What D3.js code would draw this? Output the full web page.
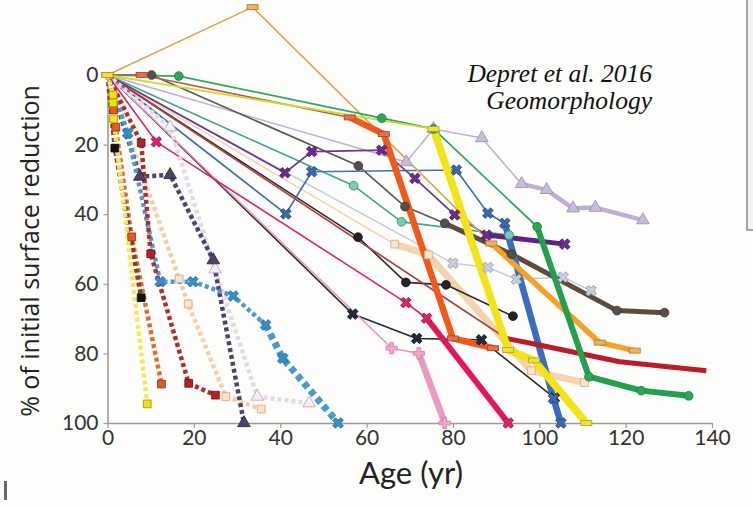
<!DOCTYPE html>
<html>
<head>
<meta charset="utf-8">
<script src="https://cdn.jsdelivr.net/npm/d3@7"></script>
<style>
  html, body { margin: 0; padding: 0; background: #fdfdfb; }
  svg { display: block; }
</style>
</head>
<body>
<svg id="chart" width="753" height="508"></svg>
<script>
// ---- Data: [age (yr), % of initial surface reduction] ----
const yellowDash  = [[0,0],[1.3,5.7],[1.3,8],[1.4,12.6],[9.2,94.5]];
const orangeDash  = [[0,0],[1.4,10],[1.9,15],[5.6,46.5],[12.5,88.8]];
const brownDash   = [[0,0],[1.7,21],[7.8,64]];
const darkRedDash = [[0,0],[7.8,19.5],[10,51.4],[18.8,88.6],[25,92]];
const blueDash    = [[0,0],[4.7,16.7],[12.2,59.4],[19.8,59.4],[29.1,63.5],[36.6,71.8],[40.6,81.4],[53.4,100]];
const peachDash   = [[0,0],[16.6,58.6],[18.7,65.8],[27.4,92.4],[35.6,96]];
const navyDash    = [[0,0],[7.5,29.2],[14.5,28.7],[24.5,53.2],[31.6,100]];
const lilacDash   = [[0,0],[14.5,15],[24.9,55.8],[34.7,92.4],[46.7,94.3]];

const amber     = [[0,0],[33.6,-19.5],[88.9,48.4],[114,76.9],[122.1,79.2]];
const yellow    = [[0,0],[75.5,15.5],[92.8,79],[98.8,82],[110.9,100]];
const green     = [[0,0],[16.5,0.3],[63.5,12.4],[75.5,15.5],[99.5,43.6],[111.5,86.7],[123.6,90.7],[134.6,92.2]];
const vermilion = [[0,0],[7.9,0],[56.1,12.2],[64,17],[80,75.7],[89.3,78.5]];
const darkRed   = [[0,0],[92.4,75.7],[100,77.6],[118.6,82.4],[138.7,85]];
const pink      = [[0,0],[65.8,78.5],[72.1,80],[78.1,100]];
const crimson   = [[0,0],[11.3,19.2],[69.1,65.4],[73.9,69.9],[92.8,100]];
const blackX    = [[0,0],[56.8,68.7],[71.6,75.7],[86.6,76.1],[103.5,92.8]];
const blackDot  = [[0,0],[58,46.6],[69.1,59.6],[78.4,60.3],[93.9,69.3]];
const charcoal  = [[0,0],[10.2,0],[58.1,26.1],[68.9,37.8],[78.1,42.6],[93.6,51.5],[118,67.7],[129,68.3]];
const teal      = [[0,0],[57,31.8],[68.1,42.2],[93,46]];
const purple    = [[0,0],[41.1,28.1],[47.3,22],[63.5,21.6],[71.2,29.7],[80.4,40.2],[87.8,46],[105.9,48.6]];
const blue      = [[0,0],[41.3,39.9],[47.3,27.8],[80.8,27.3],[88.1,39.7],[92,42.6],[103.3,93],[105,100]];
const lavender  = [[0,0],[69.2,25],[75.5,15.5],[86.7,18.1],[95.9,31.3],[101.7,33],[107.8,38.3],[113,38.1],[124,41.7]];
const greyX     = [[0,0],[80,54.1],[88.1,55.3],[94.7,58.7],[105.5,58.1],[112,62]];
const wheat     = [[0,0],[66.5,48.6],[74.3,51.7],[98.2,85],[110.5,88.4]];

const xTicks = [0, 20, 40, 60, 80, 100, 120, 140];
const yTicks = [0, 20, 40, 60, 80, 100];

// ---- Drawing styles for each series ----
// thickFrom: index of the first point of the heavy part of the line
const styles = [
  {d: wheat,     color: "#f4d3ad", w: 1.5, thickFrom: 1, tw: 7, shape: "square", fill: "#fbe6cf", stroke: "#d9a878"},
  {d: greyX,     color: "#c3cad8", w: 1.4, shape: "x", fill: "#c8d0dc", stroke: "#8a94a8"},
  {d: lavender,  color: "#bfb0d2", w: 1.5, thickFrom: 4, tw: 4.5, shape: "tri", fill: "#c9bcd8", stroke: "#9a8ab0"},
  {d: teal,      color: "#3ea88e", w: 1.6, shape: "circle", fill: "#7ccab4", stroke: "#2e8a70"},
  {d: charcoal,  color: "#5a5a5a", w: 1.7, thickFrom: 4, tw: 5, tcolor: "#5d4b40", shape: "circle", fill: "#5a4e46", stroke: "#333"},
  {d: blackDot,  color: "#2a2a2a", w: 1.6, shape: "circle", fill: "#222", stroke: "#111"},
  {d: blackX,    color: "#2a2a2a", w: 1.6, shape: "x", fill: "#1e2a40", stroke: "#111"},
  {d: purple,    color: "#6e3590", w: 1.7, thickFrom: 6, tw: 5, tcolor: "#5e2282", shape: "x", fill: "#6a2c8a", stroke: "#4a1a66"},
  {d: blue,      color: "#4472a8", w: 1.7, thickFrom: 5, tw: 6.5, tcolor: "#3a6cc0", shape: "x", fill: "#3a68a8", stroke: "#22467a"},
  {d: darkRed,   color: "#b04040", w: 1.7, thickFrom: 1, tw: 5, tcolor: "#b81e2a", shape: "none"},
  {d: amber,     color: "#dca550", w: 1.6, thickFrom: 2, tw: 5.5, tcolor: "#f5a028", shape: "rect", fill: "#f0b060", stroke: "#b07a30"},
  {d: green,     color: "#2fa85a", w: 1.8, thickFrom: 4, tw: 6, tcolor: "#22a050", shape: "circle", fill: "#2aa858", stroke: "#1a7a3a"},
  {d: pink,      color: "#eb9ac4", w: 1.6, thickFrom: 2, tw: 6.5, shape: "plus", fill: "#f0a8cc", stroke: "#c878a8"},
  {d: crimson,   color: "#d8286a", w: 1.6, thickFrom: 3, tw: 6, tcolor: "#e0185a", shape: "x", fill: "#d8246a", stroke: "#a01040"},
  {d: vermilion, color: "#c25a40", w: 1.6, thickFrom: 2, tw: 6.5, tcolor: "#ee5a1e", shape: "rect", fill: "#e47048", stroke: "#a84020"},
  {d: yellow,    color: "#c8dc3c", w: 1.8, thickFrom: 1, tw: 7.5, tcolor: "#f2e416", shape: "rect", fill: "#f0e040", stroke: "#b0a010"},
  {d: lilacDash,   color: "#e6d8e6", w: 4.5, dash: true, shape: "tri", fill: "#f6eef6", stroke: "#b8a2b8"},
  {d: peachDash,   color: "#f5cfaa", w: 4.5, dash: true, shape: "square", fill: "#fbe2cc", stroke: "#d8a070"},
  {d: navyDash,    color: "#4a4468", w: 4.5, dash: true, shape: "tri", fill: "#4a4468", stroke: "#2a2440"},
  {d: blueDash,    color: "#4a9ad0", w: 4.5, dash: true, thickFrom: 5, tw: 7, shape: "x", fill: "#3a8cc8", stroke: "#1e6aa0"},
  {d: darkRedDash, color: "#b02e2a", w: 4.5, dash: true, shape: "square", fill: "#b02424", stroke: "#701010"},
  {d: orangeDash,  color: "#e06a34", w: 4.5, dash: true, shape: "square", fill: "#e85a24", stroke: "#8a2a10"},
  {d: brownDash,   color: "#8e3a1c", w: 4.5, dash: true, shape: "square", fill: "#111", stroke: "#000"},
  {d: yellowDash,  color: "#f2e860", w: 4.5, dash: true, shape: "square", fill: "#f5e010", stroke: "#a09000"}
];

const svg = d3.select("#chart");
const x = d3.scaleLinear().domain([0, 140]).range([107.5, 712]);
const y = d3.scaleLinear().domain([0, 100]).range([75, 423]);

// neighbouring panel edge and scrap mark
svg.append("rect").attr("x", 747).attr("y", -2).attr("width", 12).attr("height", 232)
  .attr("fill", "#f3f3f3").attr("stroke", "#8a8a8a").attr("stroke-width", 1.5);
svg.append("rect").attr("x", 4).attr("y", 481).attr("width", 3).attr("height", 19).attr("fill", "#666");

// axes
const gx = svg.append("g").attr("transform", `translate(0,${y(100)})`)
  .call(d3.axisBottom(x).tickValues(xTicks).tickSize(5).tickSizeOuter(0).tickPadding(2));
const gy = svg.append("g").attr("transform", `translate(${x(0)},0)`)
  .call(d3.axisLeft(y).tickValues(yTicks).tickSize(4).tickSizeOuter(0).tickPadding(5));
[gx, gy].forEach(g => {
  g.select(".domain").attr("stroke", "#9a9a9a").attr("stroke-width", 1.6);
  g.selectAll(".tick line").attr("stroke", "#9a9a9a").attr("stroke-width", 1.2);
  g.selectAll(".tick text").attr("fill", "#333").attr("font-size", 21)
    .attr("font-family", "Lato, sans-serif");
});

// series lines
const line = d3.line().x(d => x(d[0])).y(d => y(d[1]));
const plot = svg.append("g");
styles.forEach(s => {
  const tf = s.thickFrom == null ? s.d.length : s.thickFrom;
  const thin = s.d.slice(0, Math.max(tf, 1) + (tf < s.d.length ? 1 : 0));
  const thick = tf < s.d.length ? s.d.slice(tf) : [];
  const dashThin = s.dash ? "4,3" : null;
  if (thin.length > 1) {
    plot.append("path").attr("d", line(thin)).attr("fill", "none")
      .attr("stroke", s.color).attr("stroke-width", s.w)
      .attr("stroke-dasharray", dashThin)
      .attr("stroke-linejoin", "round");
  }
  if (thick.length > 1) {
    plot.append("path").attr("d", line(thick)).attr("fill", "none")
      .attr("stroke", s.tcolor || s.color).attr("stroke-width", s.tw)
      .attr("stroke-dasharray", s.dash ? "6,4" : null)
      .attr("stroke-linejoin", "round");
  }
});

// markers
const sym = {
  square: d3.symbol().type(d3.symbolSquare).size(60),
  circle: d3.symbol().type(d3.symbolCircle).size(60),
  tri: d3.symbol().type(d3.symbolTriangle).size(70),
  x: d3.symbol().type(d3.symbolCross).size(70),
  plus: d3.symbol().type(d3.symbolCross).size(70)
};
styles.forEach(s => {
  if (s.shape === "none") return;
  const pts = s.shape === "rect" ? s.d : s.d.slice(1);
  pts.forEach(p => {
    const g = plot.append("g").attr("transform", `translate(${x(p[0])},${y(p[1])})`);
    if (s.shape === "rect") {
      g.append("rect").attr("x", -5.5).attr("y", -2.5).attr("width", 11).attr("height", 5)
        .attr("fill", s.fill).attr("stroke", s.stroke).attr("stroke-width", 0.8);
    } else {
      g.append("path").attr("d", sym[s.shape]())
        .attr("transform", s.shape === "x" ? "rotate(45)" : null)
        .attr("fill", s.fill).attr("stroke", s.stroke).attr("stroke-width", 0.8);
    }
  });
});

// titles
svg.append("text").attr("x", 411).attr("y", 484).attr("text-anchor", "middle")
  .attr("font-family", "Lato, sans-serif").attr("font-size", 31).attr("fill", "#222")
  .text("Age (yr)");
svg.append("text").attr("transform", "translate(39,251) rotate(-90)").attr("text-anchor", "middle")
  .attr("font-family", "'Open Sans', sans-serif").attr("font-size", 25).attr("fill", "#222")
  .text("% of initial surface reduction");
const cite = svg.append("g").attr("font-family", "'Liberation Serif', serif")
  .attr("font-style", "italic").attr("font-size", 25.5).attr("fill", "#111").attr("text-anchor", "end");
cite.append("text").attr("x", 652).attr("y", 82).text("Depret et al. 2016");
cite.append("text").attr("x", 652).attr("y", 109).text("Geomorphology");
</script>
</body>
</html>
